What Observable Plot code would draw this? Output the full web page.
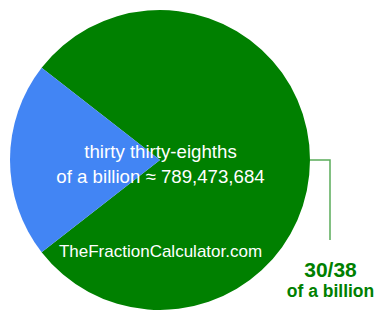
<!DOCTYPE html>
<html>
<head>
<meta charset="utf-8">
<script src="https://cdn.jsdelivr.net/npm/d3@7"></script>
<script src="https://cdn.jsdelivr.net/npm/@observablehq/plot@0.6"></script>
<style>
  html, body { margin: 0; padding: 0; background: #fff; }
  svg { font-family: "Liberation Sans", Arial, sans-serif; }
</style>
</head>
<body>
<div id="chart"></div>
<script>
// Data
const sliceNames = ["thirty thirty-eighths", "remaining eighths"];
const sliceValues = [30, 8];
const sliceColors = ["#008000", "#4285f4"];
const centerLines = ["thirty thirty-eighths", "of a billion ≈ 789,473,684"];
const watermark = ["TheFractionCalculator.com"];
const fractionLabel = ["30/38", "of a billion"];

const W = 385, H = 320;
const cx = 160, cy = 160, R = 150;

const slices = sliceNames.map((name, i) => ({name, value: sliceValues[i], color: sliceColors[i]}));
const total = d3.sum(sliceValues);
const blueHalf = Math.PI * sliceValues[1] / total;

function pieMark(index, scales, values, dimensions) {
  const svg = d3.create("svg:g");
  const pie = d3.pie().value(d => d.value).sort(null)
    .startAngle(-Math.PI / 2 + blueHalf)
    .endAngle(-Math.PI / 2 + blueHalf + 2 * Math.PI);
  const arc = d3.arc().innerRadius(0).outerRadius(R);
  svg.append("g").attr("transform", `translate(${cx},${cy})`)
    .selectAll("path").data(pie(slices)).join("path")
    .attr("d", arc).attr("fill", d => d.data.color);
  // leader line from right edge of the pie to the label
  const lx = cx + R, lx2 = cx + R + 20;
  svg.append("path")
    .attr("d", `M${lx},${cy}H${lx2}V${cy + 80}`)
    .attr("fill", "none").attr("stroke", "#008000")
    .attr("stroke-opacity", 0.65).attr("stroke-width", 1.5);
  return svg.node();
}

const chart = Plot.plot({
  width: W,
  height: H,
  margin: 0,
  style: {fontFamily: '"Liberation Sans", Arial, sans-serif', background: "#fff"},
  marks: [
    pieMark,
    Plot.text([centerLines[0]], {frameAnchor: "top-left", dx: 160, dy: 144, fill: "#fff", fontSize: 18.67, textAnchor: "middle"}),
    Plot.text([centerLines[1]], {frameAnchor: "top-left", dx: 160, dy: 169, fill: "#fff", fontSize: 18.67, textAnchor: "middle"}),
    Plot.text(watermark, {frameAnchor: "top-left", dx: 160, dy: 244.5, fill: "#fff", fontSize: 17, textAnchor: "middle"}),
    Plot.text([fractionLabel[0]], {frameAnchor: "top-left", dx: 330, dy: 262, fill: "#008000", fontSize: 21, fontWeight: "bold", textAnchor: "middle"}),
    Plot.text([fractionLabel[1]], {frameAnchor: "top-left", dx: 330, dy: 284.5, fill: "#008000", fontSize: 17.5, fontWeight: "bold", textAnchor: "middle"})
  ]
});
document.getElementById("chart").appendChild(chart);
</script>
</body>
</html>
